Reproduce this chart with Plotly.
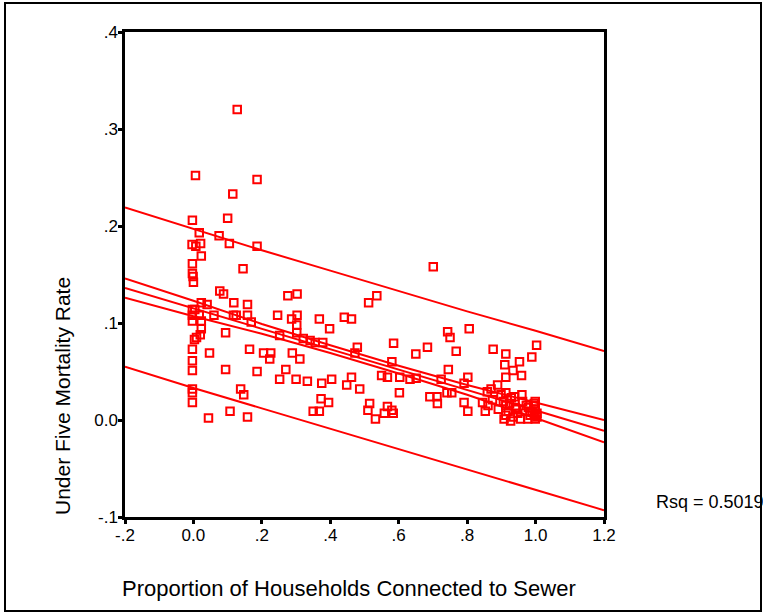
import plotly.graph_objects as go

# ---- data ----
sewer = [0.128, 0.006, 0.186, 0.115, -0.003, 0.100, 0.017, 0.075, -0.004, 0.007,
         0.021, 0.105, 0.186, 0.023, 0.145, -0.003, -0.003, -0.001, 0.000, 0.701,
         0.077, 0.088, 0.303, 0.276, 0.536, 0.512, 0.118, 0.158, 0.023, 0.040,
         -0.003, 0.004, -0.003, 0.017, 0.060, 0.117, 0.125, 0.158, 0.246, 0.303,
         0.287, 0.368, 0.441, 0.462, -0.003, 0.023, 0.169, 0.302, 0.806, 0.398,
         0.743, 0.750, 0.023, 0.094, 0.020, 0.009, 0.003, 0.252, 0.302, 0.321,
         0.341, 0.356, 0.378, 0.585, 0.684, 0.479, 0.876, 1.003, -0.003, 0.047,
         0.164, 0.205, 0.226, 0.289, 0.472, 0.650, 0.768, 0.913, 0.989, 0.223,
         0.311, 0.580, 0.953, -0.003, 0.910, -0.003, 0.094, 0.186, 0.270, 0.745,
         0.934, 0.959, 0.550, 0.567, 0.603, 0.462, 0.802, 0.913, 0.633, 0.651,
         0.724, 0.252, 0.300, 0.333, 0.375, 0.404, 0.448, 0.791, 0.889, 0.486,
         0.138, 0.870, -0.003, -0.003, 0.147, 0.602, 0.741, 0.755, 0.859, 0.913,
         0.899, 0.960, 0.691, 0.712, 0.373, 0.929, 0.939, 0.874, -0.003, 0.395,
         0.515, 0.713, 0.791, 0.845, 0.999, 0.913, 0.567, 0.973, 0.861, 0.107,
         0.350, 0.368, 0.510, 0.802, 0.853, 0.558, 0.584, 0.580, 0.920, 0.944,
         0.984, 0.999, 0.044, 0.158, 0.532, 0.908, 0.927, 0.956, 0.977, 0.999,
         0.934, 0.996, 1.004, 0.984, 0.999, 0.990, 0.948, 0.891, 0.906, 0.924,
         0.941, 0.962, 0.979, 0.996, 1.004, 0.913]
mortality = [0.320, 0.252, 0.248, 0.233, 0.206, 0.208, 0.193, 0.190, 0.181, 0.179,
             0.182, 0.182, 0.179, 0.169, 0.156, 0.161, 0.151, 0.148, 0.142, 0.158,
             0.133, 0.130, 0.130, 0.128, 0.128, 0.121, 0.121, 0.119, 0.121, 0.119,
             0.114, 0.114, 0.108, 0.108, 0.108, 0.108, 0.108, 0.108, 0.108, 0.108,
             0.104, 0.104, 0.106, 0.104, 0.102, 0.102, 0.101, 0.098, 0.094, 0.094,
             0.091, 0.085, 0.094, 0.090, 0.088, 0.085, 0.083, 0.087, 0.090, 0.084,
             0.082, 0.080, 0.080, 0.079, 0.075, 0.075, 0.073, 0.077, 0.073, 0.069,
             0.073, 0.069, 0.069, 0.069, 0.069, 0.068, 0.071, 0.068, 0.065, 0.063,
             0.063, 0.060, 0.060, 0.061, 0.057, 0.051, 0.052, 0.050, 0.052, 0.052,
             0.051, 0.046, 0.046, 0.044, 0.044, 0.044, 0.044, 0.044, 0.042, 0.043,
             0.042, 0.042, 0.042, 0.040, 0.038, 0.042, 0.036, 0.038, 0.036, 0.032,
             0.032, 0.032, 0.032, 0.028, 0.026, 0.028, 0.028, 0.028, 0.029, 0.028,
             0.026, 0.026, 0.024, 0.024, 0.022, 0.023, 0.024, 0.021, 0.018, 0.018,
             0.017, 0.017, 0.018, 0.018, 0.019, 0.015, 0.014, 0.015, 0.015, 0.009,
             0.009, 0.009, 0.010, 0.009, 0.009, 0.007, 0.007, 0.010, 0.009, 0.011,
             0.009, 0.011, 0.002, 0.003, 0.001, 0.001, -0.001, 0.001, 0.001, 0.001,
             0.003, 0.005, 0.007, 0.005, 0.015, 0.008, 0.007, 0.011, 0.019, 0.017,
             0.013, 0.019, 0.013, 0.017, 0.003, 0.005]

# fitted line and 95% bands, read at these x positions
line_x = [-0.2, 0.0, 0.2, 0.4, 0.6, 0.8, 1.0, 1.2]
fit_y = [0.136, 0.115, 0.094, 0.073, 0.052, 0.031, 0.010, -0.011]
mean_upper = [0.146, 0.123, 0.099, 0.077, 0.056, 0.036, 0.018, 0.000]
mean_lower = [0.126, 0.107, 0.089, 0.069, 0.048, 0.026, 0.002, -0.023]
pred_upper = [0.219, 0.197, 0.175, 0.154, 0.133, 0.112, 0.092, 0.071]
pred_lower = [0.055, 0.033, 0.012, -0.009, -0.030, -0.051, -0.072, -0.093]

x_tickvals = [-0.2, 0.0, 0.2, 0.4, 0.6, 0.8, 1.0, 1.2]
x_ticktext = ["-.2", "0.0", ".2", ".4", ".6", ".8", "1.0", "1.2"]
y_tickvals = [-0.1, 0.0, 0.1, 0.2, 0.3, 0.4]
y_ticktext = ["-.1", "0.0", ".1", ".2", ".3", ".4"]

x_title = "Proportion of Households Connected to Sewer"
y_title = "Under Five Mortality Rate"
rsq_text = "Rsq = 0.5019"

RED = "#ff0000"
FONT = "Liberation Sans, Arial, sans-serif"

fig = go.Figure()
for ys in [pred_upper, mean_upper, fit_y, mean_lower, pred_lower]:
    fig.add_trace(go.Scatter(x=line_x, y=ys, mode="lines",
                             line=dict(color=RED, width=2), hoverinfo="skip"))
fig.add_trace(go.Scatter(x=sewer, y=mortality, mode="markers",
                         marker=dict(symbol="square-open", size=7.5, color=RED,
                                     line=dict(color=RED, width=2))))

# page geometry (pixels)
W, H = 763, 615
L, R, T, B = 125, 604, 32, 517
pw, ph = R - L, B - T

def px(xp):
    return (xp - L) / pw

def py(yp):
    return (B - yp) / ph

axis_common = dict(showgrid=False, zeroline=False, showline=True, linecolor="black",
                   linewidth=2.5, mirror=True, ticks="outside", ticklen=4, tickwidth=3,
                   tickcolor="black", tickfont=dict(size=17, family=FONT),
                   ticklabelstandoff=-3)

fig.update_layout(
    width=W, height=H,
    margin=dict(l=L, r=W - R, t=T, b=H - B, pad=0),
    paper_bgcolor="white", plot_bgcolor="white",
    showlegend=False,
    font=dict(family=FONT, color="black", size=15),
    xaxis=dict(range=[-0.2, 1.2], tickvals=x_tickvals, ticktext=x_ticktext, **axis_common),
    yaxis=dict(range=[-0.1, 0.4], tickvals=y_tickvals, ticktext=y_ticktext, **axis_common),
    shapes=[dict(type="rect", xref="paper", yref="paper",
                 x0=px(5), x1=px(761), y0=py(611), y1=py(3),
                 line=dict(color="black", width=2), layer="below")],
    annotations=[
        dict(text=x_title, xref="paper", yref="paper", x=px(349), y=py(588),
             xanchor="center", yanchor="middle", showarrow=False,
             font=dict(size=22, family=FONT)),
        dict(text=y_title, xref="paper", yref="paper", x=px(62), y=py(396),
             xanchor="center", yanchor="middle", textangle=-90, showarrow=False,
             font=dict(size=21, family=FONT)),
        dict(text=rsq_text, xref="paper", yref="paper", x=px(654), y=py(502),
             xanchor="left", yanchor="middle", showarrow=False,
             font=dict(size=18, family=FONT)),
    ],
)

fig.write_html("out.html")
